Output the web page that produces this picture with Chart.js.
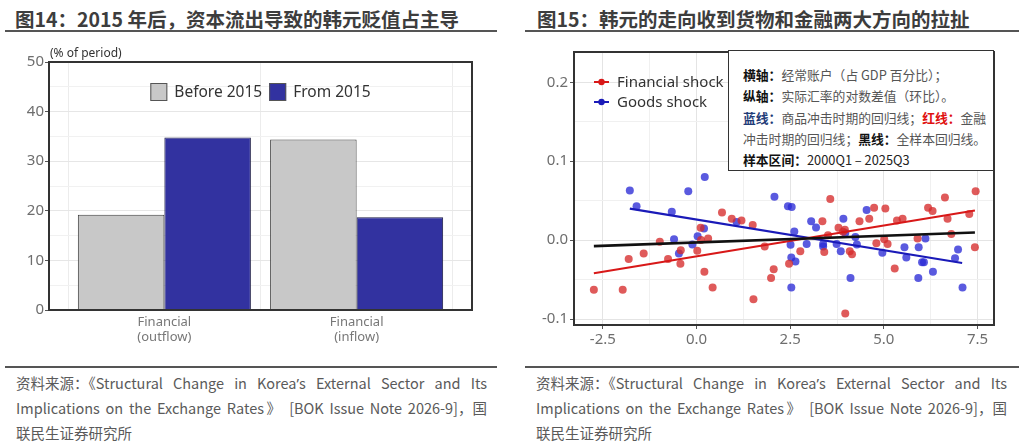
<!DOCTYPE html>
<html>
<head>
<meta charset="utf-8">
<script src="https://cdn.jsdelivr.net/npm/chart.js@4.4.1/dist/chart.umd.min.js"></script>
<style>
  body { margin: 0; width: 1024px; height: 448px; background: #fff; position: relative; overflow: hidden;
         font-family: "Noto Sans CJK SC", "Noto Sans", sans-serif; }
  .title { position: absolute; top: 4px; font-size: 19.5px; font-weight: bold; color: #3d3d3d; white-space: nowrap; }
  .rule { position: absolute; height: 2px; background: #555; }
  .src { position: absolute; top: 370px; width: 471px; font-size: 14.5px; color: #5a5a5a; }
  .src div { height: 25px; line-height: 25px; text-align: justify; text-align-last: justify; }
  .src div.last { text-align-last: left; }
  .src .cj { display: inline-block; }
  .src .ap { font-family: "Noto Sans", sans-serif; }
  .box { position: absolute; }
  .note { position: absolute; left: 728px; top: 50px; width: 266px; height: 121px; background: #fff;
          border: 1.5px solid #333; padding: 13px 0 0 14px; box-sizing: border-box;
          font-size: 12.8px; line-height: 21.3px; color: #555; white-space: nowrap; }
  .note b { color: #111; }
  .note b.bl { color: #1f3c78; }
  .note b.rd { color: #e01010; }
  .note .dk { color: #222; }
</style>
</head>
<body>
<div class="title" style="left:15px">图14：2015 年后，资本流出导致的韩元贬值占主导</div>
<div class="rule" style="left:5px;width:492px;top:30px"></div>
<div class="title" style="left:537px">图15：韩元的走向收到货物和金融两大方向的拉扯</div>
<div class="rule" style="left:525px;width:494px;top:30px"></div>

<div class="box" style="left:0;top:0;width:512px;height:360px"><canvas id="bars"></canvas></div>
<div class="box" style="left:512px;top:0;width:512px;height:360px"><canvas id="scatter"></canvas></div>

<div class="note">
  <div><b>横轴：</b>经常账户（占 GDP 百分比）；</div>
  <div><b>纵轴：</b>实际汇率的对数差值（环比）。</div>
  <div><b class="bl">蓝线：</b>商品冲击时期的回归线；<b class="rd">红线：</b>金融</div>
  <div>冲击时期的回归线；<b>黑线：</b>全样本回归线。</div>
  <div><b>样本区间：</b><span class="dk">2000Q1 – 2025Q3</span></div>
</div>

<div class="rule" style="left:5px;width:492px;top:366px"></div>
<div class="rule" style="left:525px;width:494px;top:366px"></div>
<div class="src" style="left:16px">
  <div><span class="cj">资料来源：《</span>Structural Change in Korea<span class="ap">’</span>s External Sector and Its</div>
  <div>Implications on the Exchange Rates》 [BOK Issue Note 2026-9]<span class="cj">，国</span></div>
  <div class="last">联民生证券研究所</div>
</div>
<div class="src" style="left:536px">
  <div><span class="cj">资料来源：《</span>Structural Change in Korea<span class="ap">’</span>s External Sector and Its</div>
  <div>Implications on the Exchange Rates》 [BOK Issue Note 2026-9]<span class="cj">，国</span></div>
  <div class="last">联民生证券研究所</div>
</div>

<script>
// 图14 数据
var barCategories = [['Financial', '(outflow)'], ['Financial', '(inflow)']];
var before2015 = [19.2, 34.4];
var from2015 = [34.8, 18.7];
var barYTicks = [0, 10, 20, 30, 40, 50];

// 图15 数据：散点
var finX = [-2.74, -1.97, -1.81, -1.41, -0.98, -0.76, -0.42, -0.43, 0.02, 0.11, 0.12, 0.31, 0.21, 0.43,
  0.68, 0.94, 1.20, 1.50, 1.52, 1.82, 1.99, 2.06, 2.47, 2.77, 3.36, 3.41, 3.57, 3.51, 3.79, 3.91, 3.97,
  3.96, 4.09, 4.15, 4.35, 4.61, 4.74, 4.80, 5.04, 5.01, 5.10, 5.29, 5.35, 5.50, 5.90, 6.18, 6.30, 6.63,
  6.70, 6.80, 7.28, 7.43, 7.45];
var finY = [-0.063, -0.063, -0.024, -0.017, -0.002, -0.024, -0.013, -0.030, -0.0135, 0.0156, 0.0, 0.002,
  -0.040, -0.060, 0.035, 0.027, 0.025, 0.019, -0.075, -0.008, -0.048, -0.037, -0.030, -0.014, 0.024,
  -0.015, 0.052, 0.006, 0.0156, 0.0105, -0.093, 0.013, -0.014, -0.018, 0.024, 0.027, 0.041, -0.004,
  0.040, 0.001, -0.005, -0.036, 0.025, 0.027, 0.002, 0.041, 0.037, 0.054, 0.027, 0.0076, 0.033, -0.009,
  0.062];
var goodsX = [-1.78, -1.60, -0.66, -0.60, -0.47, -0.22, -0.11, 0.03, 0.22, 0.20, 1.07, 2.08, 2.44, 2.54,
  2.61, 2.51, 2.53, 2.64, 2.53, 2.94, 3.06, 3.19, 3.38, 3.38, 3.74, 3.85, 3.92, 3.97, 4.11, 4.24, 4.28,
  4.54, 4.96, 5.55, 5.60, 5.93, 5.92, 6.02, 6.07, 6.11, 6.31, 6.90, 6.98, 7.10];
var goodsY = [0.063, 0.043, 0.036, 0.001, -0.017, 0.062, -0.0055, 0.005, 0.080, 0.0148, 0.023, 0.055,
  0.043, 0.042, 0.011, -0.006, -0.022, -0.027, -0.060, -0.005, 0.024, 0.016, -0.005, -0.008, -0.005,
  -0.014, 0.027, 0.009, -0.048, 0.004, -0.0055, 0.038, -0.016, -0.009, -0.022, -0.009, -0.048, -0.028,
  -0.028, 0.002, -0.040, -0.023, -0.012, -0.060];

// 回归线端点
var finLineX = [-2.74, 7.43], finLineY = [-0.042, 0.0375];
var goodsLineX = [-1.78, 7.09], goodsLineY = [0.040, -0.029];
var allLineX = [-2.74, 7.43], allLineY = [-0.0076, 0.0097];

var scatterXTicks = [-2.5, 0, 2.5, 5, 7.5];
var scatterYTicks = [-0.1, 0, 0.1, 0.2];

Chart.defaults.font.family = '"Noto Sans", "Open Sans", sans-serif';
Chart.defaults.color = '#6e6e6e';

function pts(xs, ys) {
  return xs.map(function (x, i) { return { x: x, y: ys[i] }; });
}
// 主刻度加中间的次网格线
function withMinor(ticks) {
  var out = [];
  for (var i = 0; i < ticks.length; i++) {
    out.push(ticks[i]);
    if (i < ticks.length - 1) out.push((ticks[i] + ticks[i + 1]) / 2);
  }
  return out;
}
function isMajor(list, v) {
  return list.some(function (t) { return Math.abs(t - v) < 1e-9; });
}

// 绘图区外框
var frame = {
  id: 'frame',
  afterDraw: function (chart) {
    var a = chart.chartArea, ctx = chart.ctx;
    ctx.save();
    ctx.strokeStyle = '#333';
    ctx.lineWidth = 2;
    ctx.strokeRect(a.left, a.top, a.right - a.left, a.bottom - a.top);
    ctx.restore();
  }
};

// 图14 图例 + 单位
var barLegend = {
  id: 'barLegend',
  afterDraw: function (chart) {
    var a = chart.chartArea, ctx = chart.ctx;
    var ds = chart.data.datasets;
    ctx.save();
    ctx.font = '15.5px "Noto Sans", sans-serif';
    ctx.textBaseline = 'middle';
    var box = 17, gap = 7;
    var total = 0;
    ds.forEach(function (d, i) {
      total += box + gap + ctx.measureText(d.label).width + (i ? gap : 0);
    });
    var x = (a.left + a.right) / 2 - total / 2, y = a.top + 30;
    ds.forEach(function (d, i) {
      if (i) x += gap;
      ctx.fillStyle = d.backgroundColor;
      ctx.fillRect(x, y - 9, box, 18);
      ctx.strokeStyle = '#555';
      ctx.lineWidth = 1;
      ctx.strokeRect(x + 0.5, y - 8.5, box - 1, 17);
      x += box + gap;
      ctx.fillStyle = '#333';
      ctx.fillText(d.label, x, y + 1);
      x += ctx.measureText(d.label).width;
    });
    ctx.font = '12px "Noto Sans", sans-serif';
    ctx.fillStyle = '#333';
    ctx.fillText('(% of period)', a.left + 1, a.top - 8);
    ctx.restore();
  }
};

// 图15 图例
var scatterLegend = {
  id: 'scatterLegend',
  afterDraw: function (chart) {
    var a = chart.chartArea, ctx = chart.ctx;
    ctx.save();
    ctx.font = '15px "Noto Sans", sans-serif';
    ctx.textBaseline = 'middle';
    [0, 1].forEach(function (idx, i) {
      var d = chart.data.datasets[idx];
      var x = a.left + 20, y = a.top + 30 + i * 20;
      ctx.strokeStyle = d.lineColor;
      ctx.lineWidth = 2;
      ctx.beginPath(); ctx.moveTo(x, y); ctx.lineTo(x + 15, y); ctx.stroke();
      ctx.fillStyle = d.lineColor;
      ctx.beginPath(); ctx.arc(x + 7.5, y, 3.2, 0, Math.PI * 2); ctx.fill();
      ctx.fillStyle = '#333';
      ctx.fillText(d.label, x + 23, y + 1);
    });
    ctx.restore();
  }
};

new Chart(document.getElementById('bars'), {
  type: 'bar',
  data: {
    datasets: [{
      label: 'Before 2015',
      data: before2015.map(function (v, i) { return { x: i + 1, y: v }; }),
      backgroundColor: '#c8c8c8',
      borderColor: '#3c3c3c',
      borderWidth: 1,
      categoryPercentage: 0.9,
      barPercentage: 1
    }, {
      label: 'From 2015',
      data: from2015.map(function (v, i) { return { x: i + 1, y: v }; }),
      backgroundColor: '#3232a0',
      borderColor: '#1c1c45',
      borderWidth: 1,
      categoryPercentage: 0.9,
      barPercentage: 1
    }]
  },
  options: {
    animation: false,
    responsive: true,
    maintainAspectRatio: false,
    layout: { padding: { top: 62, right: 40, left: 0, bottom: 0 } },
    plugins: { legend: { display: false }, tooltip: { enabled: false } },
    scales: {
      x: {
        type: 'linear', min: 0.4, max: 2.6, offset: false,
        afterBuildTicks: function (s) { s.ticks = barCategories.map(function (c, i) { return { value: i + 1 }; }); },
        afterFit: function (s) { s.height = 50; },
        ticks: {
          autoSkip: false, maxRotation: 0, padding: 4, color: '#777', font: { size: 13 },
          callback: function (v) { return barCategories[v - 1]; }
        },
        grid: { color: '#ececec', drawTicks: false },
        border: { display: false }
      },
      y: {
        min: 0, max: 50,
        afterBuildTicks: function (s) { s.ticks = withMinor(barYTicks).map(function (v) { return { value: v }; }); },
        afterFit: function (s) { s.width = 49; },
        ticks: {
          autoSkip: false, padding: 1, color: '#6e6e6e', font: { size: 15 },
          callback: function (v) { return isMajor(barYTicks, v) ? String(v) : ''; }
        },
        grid: {
          tickLength: 4,
          color: function (c) { return isMajor(barYTicks, c.tick.value) ? '#e6e6e6' : '#f1f1f1'; },
          tickColor: function (c) { return isMajor(barYTicks, c.tick.value) ? '#555' : 'rgba(0,0,0,0)'; }
        },
        border: { display: false }
      }
    }
  },
  plugins: [frame, barLegend]
});

new Chart(document.getElementById('scatter'), {
  type: 'scatter',
  data: {
    datasets: [{
      label: 'Financial shock', lineColor: '#d81818',
      data: pts(finX, finY), backgroundColor: 'rgba(214,44,44,0.78)', borderWidth: 0, pointRadius: 4, order: 2
    }, {
      label: 'Goods shock', lineColor: '#1a1ab8',
      data: pts(goodsX, goodsY), backgroundColor: 'rgba(44,44,214,0.78)', borderWidth: 0, pointRadius: 4, order: 2
    }, {
      label: 'Financial fit', data: pts(finLineX, finLineY), showLine: true, pointRadius: 0,
      borderColor: '#d81818', borderWidth: 2.2, order: 1
    }, {
      label: 'Goods fit', data: pts(goodsLineX, goodsLineY), showLine: true, pointRadius: 0,
      borderColor: '#1a1ab8', borderWidth: 2.2, order: 1
    }, {
      label: 'All fit', data: pts(allLineX, allLineY), showLine: true, pointRadius: 0,
      borderColor: '#111', borderWidth: 2.6, order: 0
    }]
  },
  options: {
    animation: false,
    responsive: true,
    maintainAspectRatio: false,
    layout: { padding: { top: 52, right: 30, left: 0, bottom: 0 } },
    plugins: { legend: { display: false }, tooltip: { enabled: false } },
    scales: {
      x: {
        type: 'linear', min: -3.27, max: 7.94,
        afterBuildTicks: function (s) { s.ticks = withMinor(scatterXTicks).map(function (v) { return { value: v }; }); },
        afterFit: function (s) { s.height = 35; },
        ticks: {
          autoSkip: false, maxRotation: 0, padding: 2, color: '#6e6e6e', font: { size: 15 },
          callback: function (v) { return isMajor(scatterXTicks, v) ? v.toFixed(1) : ''; }
        },
        grid: {
          tickLength: 4,
          color: function (c) { return isMajor(scatterXTicks, c.tick.value) ? '#e4e4e4' : '#f0f0f0'; },
          tickColor: function (c) { return isMajor(scatterXTicks, c.tick.value) ? '#555' : 'rgba(0,0,0,0)'; }
        },
        border: { display: false }
      },
      y: {
        min: -0.1076, max: 0.2384,
        afterBuildTicks: function (s) { s.ticks = withMinor(scatterYTicks).map(function (v) { return { value: v }; }); },
        afterFit: function (s) { s.width = 62; },
        ticks: {
          autoSkip: false, padding: 2, color: '#6e6e6e', font: { size: 15 },
          callback: function (v) { return isMajor(scatterYTicks, v) ? v.toFixed(1) : ''; }
        },
        grid: {
          tickLength: 4,
          color: function (c) { return isMajor(scatterYTicks, c.tick.value) ? '#e4e4e4' : '#f0f0f0'; },
          tickColor: function (c) { return isMajor(scatterYTicks, c.tick.value) ? '#555' : 'rgba(0,0,0,0)'; }
        },
        border: { display: false }
      }
    }
  },
  plugins: [frame, scatterLegend]
});
</script>
</body>
</html>
